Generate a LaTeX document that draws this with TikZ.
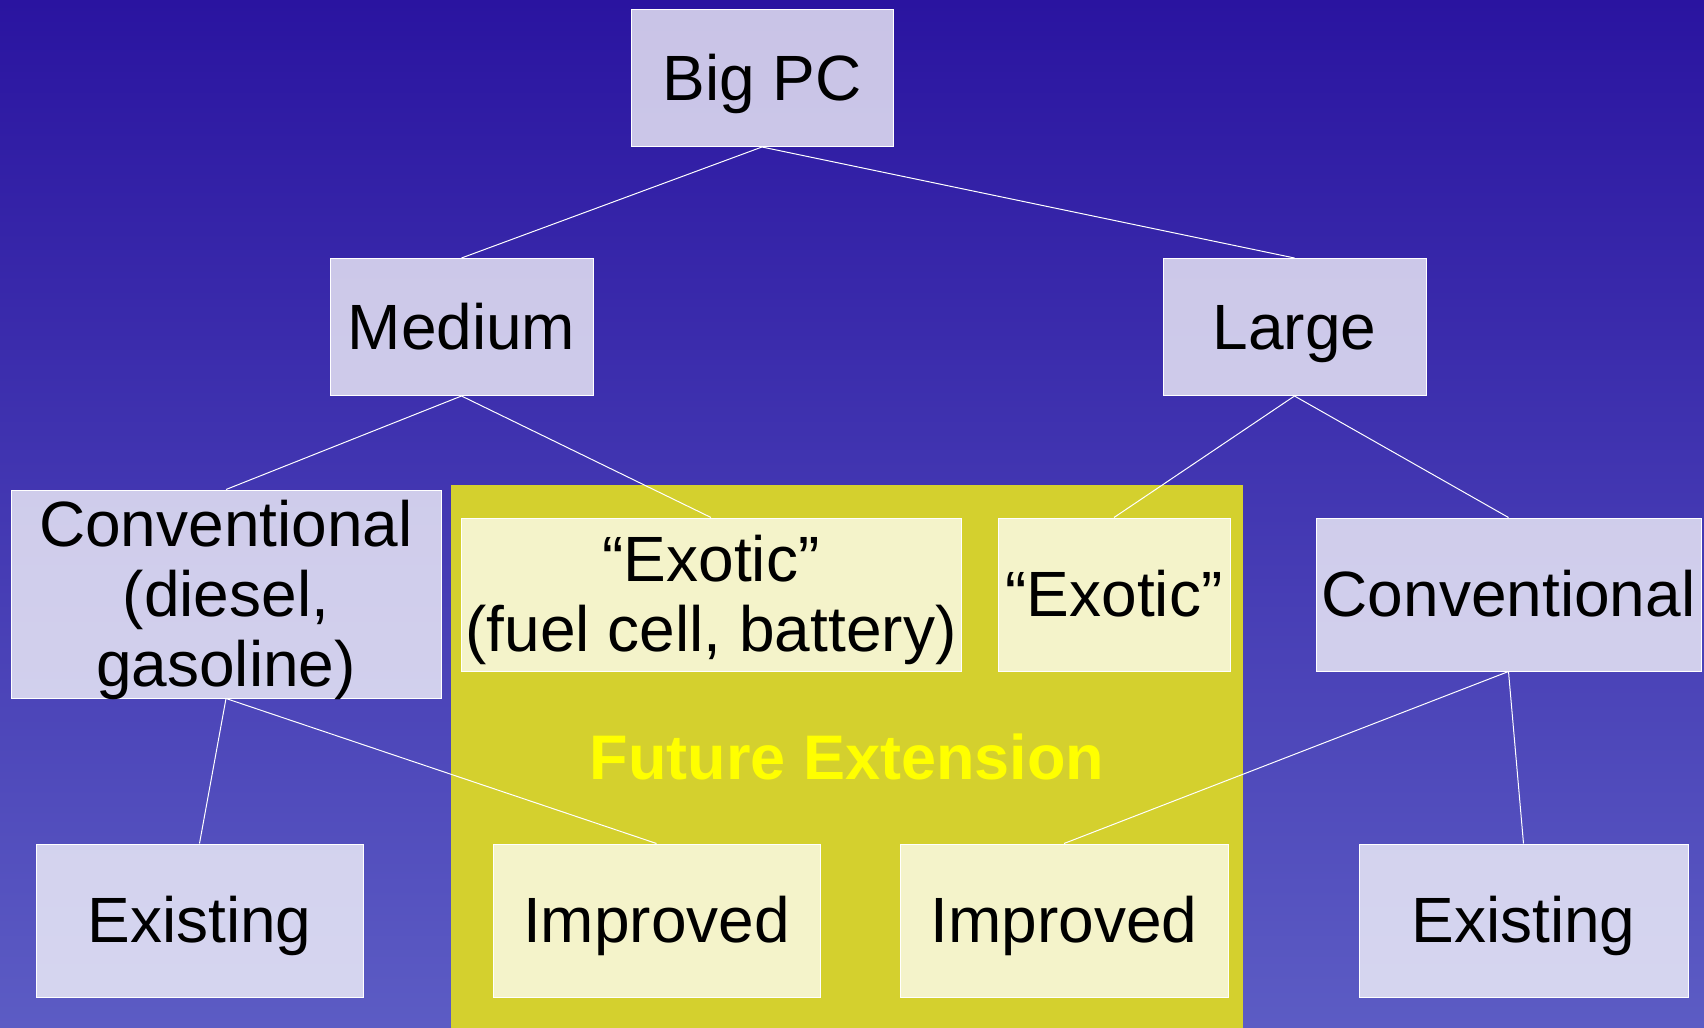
\documentclass[tikz,border=0pt]{standalone}
\usepackage{fontspec}
\setmainfont{Liberation Sans}
\definecolor{bgtop}{RGB}{42,20,160}
\definecolor{bgbottom}{RGB}{92,92,196}
\definecolor{extyellow}{RGB}{212,208,46}
\definecolor{exttext}{RGB}{255,255,0}
\tikzset{
  box/.style={draw=white, line width=0.5pt, fill=white, fill opacity=0.75, text opacity=1,
              text=black, inner sep=0pt, align=center, font=\fontsize{32}{35}\selectfont,
              text height=27pt, text depth=5pt},
  link/.style={draw=white, line width=0.5pt}
}

\begin{document}
\begin{tikzpicture}[x=0.5pt,y=-0.5pt]
   \useasboundingbox (0,0) rectangle (1704,1028);
   \shade[top color=bgtop, bottom color=bgbottom] (0,0) rectangle (1704,1028);
   \fill[extyellow] (451,485) rectangle (1243,1028);
   % tree boxes
   \node[box, minimum width=131pt,   minimum height=68.5pt] (big)       at ( 762.0, 78.0) {Big PC};
   \node[box, minimum width=131.5pt, minimum height=68.5pt] (medium)    at ( 461.5,327.0) {Medium};
   \node[box, minimum width=131.5pt, minimum height=68.5pt] (large)     at (1294.5,327.0) {Large};
   \node[box, minimum width=215pt,   minimum height=104pt, text height=97pt] (convL) at ( 226.0,594.0) {Conventional\\(diesel,\\gasoline)};
   \node[box, minimum width=250pt,   minimum height=76.5pt, text height=62pt] (exoticA) at ( 711.0,594.5) {``Exotic''\\(fuel cell, battery)};
   \node[box, minimum width=116pt,   minimum height=76.5pt] (exoticB)   at (1114.0,594.5) {``Exotic''};
   \node[box, minimum width=192.5pt, minimum height=76.5pt] (convR)     at (1508.5,594.5) {Conventional};
   \node[box, minimum width=163.5pt, minimum height=76.5pt] (existL)    at ( 199.5,920.5) {Existing};
   \node[box, minimum width=163.5pt, minimum height=76.5pt] (improvedA) at ( 656.5,920.5) {Improved};
   \node[box, minimum width=164pt,   minimum height=76.5pt] (improvedB) at (1064.0,920.5) {Improved};
   \node[box, minimum width=164.5pt, minimum height=76.5pt] (existR)    at (1523.5,920.5) {Existing};
   \node[font=\bfseries\fontsize{31.5}{35}\selectfont, text=exttext, inner sep=0pt] (future) at (847,757) {Future Extension};
   % links
   \draw[link] (big.south)    -- (medium.north);
   \draw[link] (big.south)    -- (large.north);
   \draw[link] (medium.south) -- (convL.north);
   \draw[link] (medium.south) -- (exoticA.north);
   \draw[link] (large.south)  -- (exoticB.north);
   \draw[link] (large.south)  -- (convR.north);
   \draw[link] (convL.south)  -- (existL.north);
   \draw[link] (convL.south)  -- (improvedA.north);
   \draw[link] (convR.south)  -- (improvedB.north);
   \draw[link] (convR.south)  -- (existR.north);
\end{tikzpicture}
\end{document}
